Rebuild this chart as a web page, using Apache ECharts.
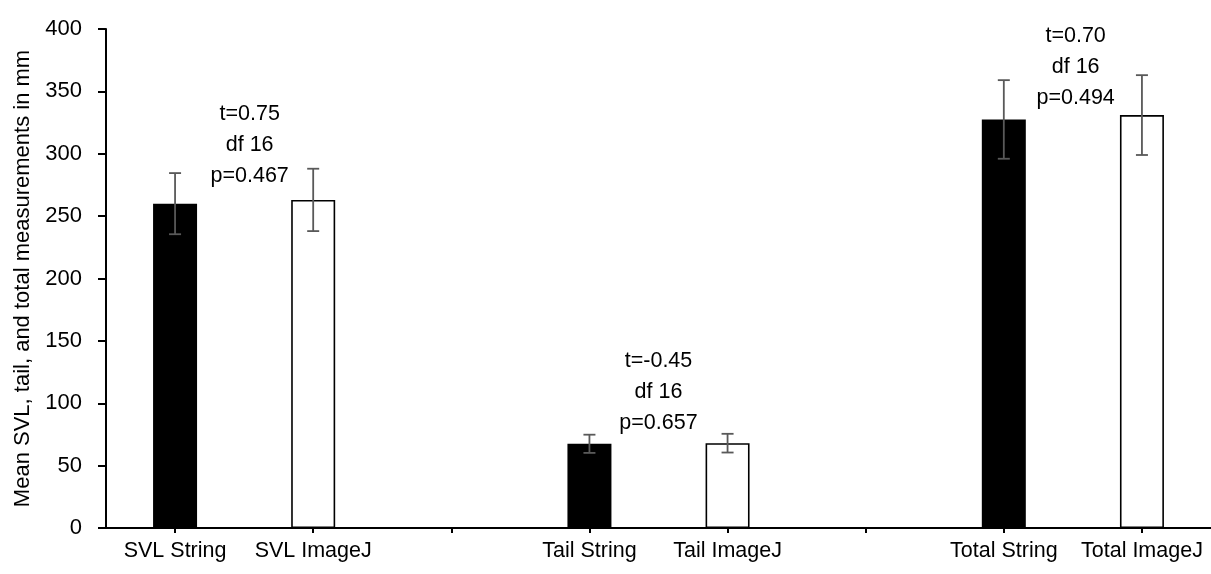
<!DOCTYPE html>
<html>
<head>
<meta charset="utf-8">
<script src="https://cdn.jsdelivr.net/npm/echarts@6/dist/echarts.min.js"></script>
<style>
  html, body { margin: 0; padding: 0; background: #fff; }
  #chart { width: 1211px; height: 574px; }
</style>
</head>
<body>
<div id="chart"></div>
<script>
// ---- data ----
const categories = ['SVL String', 'SVL ImageJ', '', 'Tail String', 'Tail ImageJ', '', 'Total String', 'Total ImageJ'];
const meanValues = [260, 263, null, 67.5, 68, null, 327.5, 331];
const errorValues = [24.5, 25, null, 7.3, 7.5, null, 31.5, 32];
const method = ['String', 'ImageJ', null, 'String', 'ImageJ', null, 'String', 'ImageJ'];
const yTicks = [0, 50, 100, 150, 200, 250, 300, 350, 400];
const annotationTexts = ['t=0.75\ndf 16\np=0.467', 't=-0.45\ndf 16\np=0.657', 't=0.70\ndf 16\np=0.494'];
const annotationX = [1.04, 4.0, 7.02];
const annotationY = [307, 109, 369.5];

const FONT = '"Liberation Sans", Arial, sans-serif';

const barData = meanValues.map((v, i) => {
  if (v === null) return null;
  return {
    value: v,
    itemStyle: method[i] === 'String'
      ? { color: '#000000', borderColor: '#000000', borderWidth: 0 }
      : { color: '#ffffff', borderColor: '#000000', borderWidth: 1.6 }
  };
});

const errData = meanValues.map((v, i) => v === null ? [i, null, null] : [i, v - errorValues[i], v + errorValues[i]]).filter(d => d[1] !== null);

const chart = echarts.init(document.getElementById('chart'), null, { renderer: 'canvas' });
chart.setOption({
  animation: false,
  backgroundColor: '#ffffff',
  grid: { left: 106, right: -7, top: 29, bottom: 46, containLabel: false },
  xAxis: [
    {
      type: 'category',
      data: categories,
      boundaryGap: true,
      axisLine: { lineStyle: { color: '#000', width: 2 } },
      axisTick: { show: true, alignWithLabel: true, length: 5, lineStyle: { color: '#000', width: 2 } },
      axisLabel: { color: '#000', fontFamily: FONT, fontSize: 21.5, margin: 12, interval: 0 },
      splitLine: { show: false }
    },
    {
      type: 'value', min: 0, max: 8, show: false
    }
  ],
  yAxis: {
    type: 'value',
    min: yTicks[0],
    max: yTicks[yTicks.length - 1],
    interval: 50,
    name: 'Mean SVL, tail, and total measurements in mm',
    nameLocation: 'middle',
    nameGap: 70,
    nameTextStyle: { color: '#000', fontFamily: FONT, fontSize: 22 },
    axisLine: { show: true, lineStyle: { color: '#000', width: 2 } },
    axisTick: { show: true, length: 8, lineStyle: { color: '#000', width: 2 } },
    axisLabel: { color: '#000', fontFamily: FONT, fontSize: 22, margin: 24 },
    splitLine: { show: false }
  },
  series: [
    {
      type: 'bar',
      data: barData,
      barWidth: 44,
      xAxisIndex: 0,
      z: 2
    },
    {
      type: 'custom',
      xAxisIndex: 0,
      z: 5,
      data: errData,
      renderItem: function (params, api) {
        const x = api.value(0);
        const lo = api.coord([x, api.value(1)]);
        const hi = api.coord([x, api.value(2)]);
        const half = 6;
        const style = { stroke: '#595959', lineWidth: 1.8 };
        return {
          type: 'group',
          children: [
            { type: 'line', shape: { x1: lo[0], y1: lo[1], x2: hi[0], y2: hi[1] }, style: style },
            { type: 'line', shape: { x1: hi[0] - half, y1: hi[1], x2: hi[0] + half, y2: hi[1] }, style: style },
            { type: 'line', shape: { x1: lo[0] - half, y1: lo[1], x2: lo[0] + half, y2: lo[1] }, style: style }
          ]
        };
      }
    },
    {
      type: 'scatter',
      xAxisIndex: 1,
      symbolSize: 0,
      z: 6,
      itemStyle: { opacity: 1, color: '#000' },
      data: annotationX.map((x, i) => ({ value: [x, annotationY[i]], label: { formatter: annotationTexts[i] } })),
      label: {
        show: true,
        position: 'inside',
        color: '#000',
        opacity: 1,
        fontFamily: FONT,
        fontSize: 21.5,
        lineHeight: 31,
        align: 'center',
        verticalAlign: 'middle'
      },
      emphasis: { disabled: true }
    }
  ]
});
</script>
</body>
</html>
